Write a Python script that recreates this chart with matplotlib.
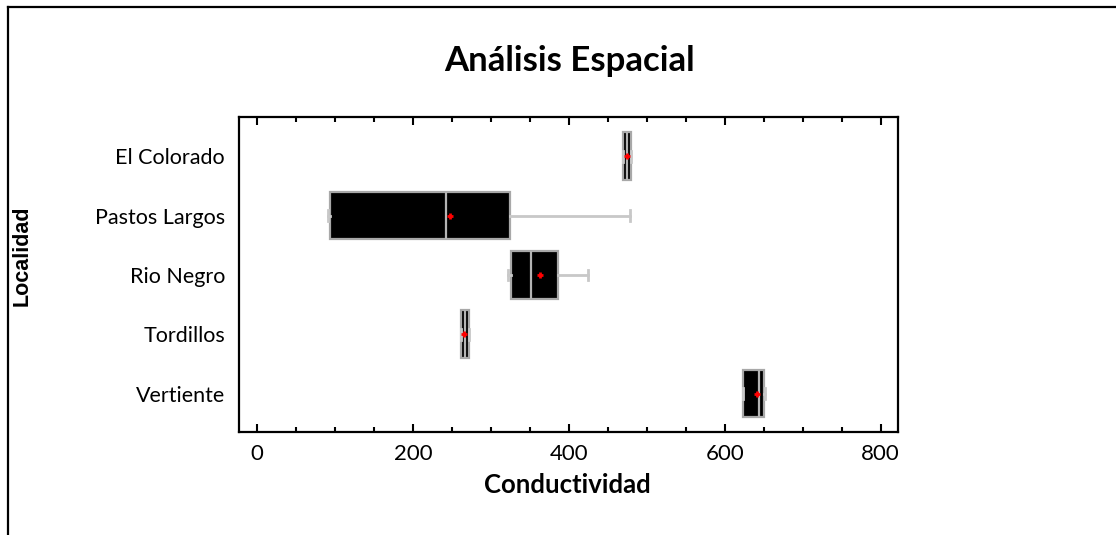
import matplotlib
matplotlib.use("Agg")
import matplotlib.pyplot as plt
from matplotlib.lines import Line2D
from matplotlib.ticker import MultipleLocator

# Conductividad por localidad (resumen de caja y bigotes)
localidades = ["El Colorado", "Pastos Largos", "Rio Negro", "Tordillos", "Vertiente"]
q1 = [469, 94, 326, 262, 624]
mediana = [474, 243, 351, 267, 644]
q3 = [480, 325, 386, 272, 650]
bigote_inf = [469, 91, 322, 262, 624]
bigote_sup = [480, 479, 424, 272, 652]
media = [474, 248, 363, 266, 641]

W, H = 1116, 535
fig = plt.figure(figsize=(W / 100, H / 100), dpi=100)
ax = fig.add_axes([239 / W, 1 - 431.5 / H, (897.5 - 239) / W, (431.5 - 117) / H])

stats = []
for i, nombre in enumerate(localidades):
    stats.append(dict(label=nombre, q1=q1[i], med=mediana[i], q3=q3[i],
                      whislo=bigote_inf[i], whishi=bigote_sup[i], mean=media[i]))

pos = list(range(len(localidades)))
ax.bxp(stats, positions=pos, vert=False, widths=0.8, patch_artist=True,
       showmeans=True, showfliers=False,
       boxprops=dict(facecolor="black", edgecolor="#a8a8a8", linewidth=1.6),
       medianprops=dict(color="#b4b4b4", linewidth=1.6),
       whiskerprops=dict(color="#c8c8c8", linewidth=2),
       capprops=dict(color="#c8c8c8", linewidth=2),
       capwidths=0.18,
       meanprops=dict(marker="+", markeredgecolor="red", markersize=5,
                      markeredgewidth=2))

ax.set_ylim(4.64, -0.66)
ax.set_xlim(-23, 821.5)

fnt = "Lato"
ax.set_yticks(pos)
ax.set_yticklabels(localidades, family=fnt, fontsize=15.5)
ax.tick_params(axis="y", length=0, pad=10)

ax.xaxis.set_major_locator(MultipleLocator(200))
ax.xaxis.set_minor_locator(MultipleLocator(50))
ax.tick_params(axis="x", which="both", direction="in", top=True, bottom=True,
               width=1.5, pad=9, labelsize=16)
ax.tick_params(axis="x", which="major", length=6)
ax.tick_params(axis="x", which="minor", length=3.5)
for lbl in ax.get_xticklabels():
    lbl.set_family(fnt)

for s in ax.spines.values():
    s.set_linewidth(1.6)

fig.text(570 / W, 1 - 71 / H, "Análisis Espacial", family=fnt, fontweight="bold",
         fontsize=25, ha="center", va="baseline")
fig.text(567 / W, 1 - 493 / H, "Conductividad", family=fnt, fontweight="bold",
         fontsize=18.5, ha="center", va="baseline")
fig.text(22 / W, 1 - 256 / H, "Localidad", family="Liberation Sans",
         fontweight="bold", fontsize=15.5, rotation=90, ha="center", va="center")

# marco exterior (solo borde superior e izquierdo)
fig.add_artist(Line2D([8 / W, 1], [1 - 7 / H, 1 - 7 / H], color="black", lw=1.6,
                      transform=fig.transFigure))
fig.add_artist(Line2D([8 / W, 8 / W], [0, 1 - 7 / H], color="black", lw=1.6,
                      transform=fig.transFigure))

fig.savefig("out.png", dpi=100, facecolor="white")
